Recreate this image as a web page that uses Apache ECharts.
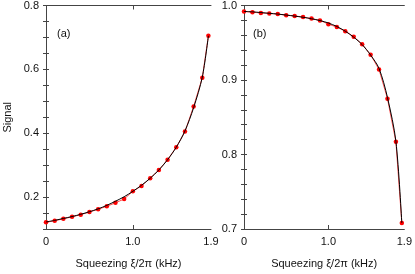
<!DOCTYPE html>
<html>
<head>
<meta charset="utf-8">
<script src="https://cdn.jsdelivr.net/npm/echarts@6/dist/echarts.min.js"></script>
<style>html,body{margin:0;padding:0;background:#fff}#c{width:415px;height:274px}</style>
</head>
<body>
<div id="c"></div>
<script>
// ---- data ----
const xPts = [0,0.1,0.2,0.3,0.4,0.5,0.6,0.7,0.8,0.9,1.0,1.1,1.2,1.3,1.4,1.5,1.6,1.7,1.8,1.87];
const sigA = [0.121,0.126,0.132,0.138,0.145,0.153,0.162,0.171,0.182,0.194,0.218,0.235,0.259,0.285,0.317,0.356,0.405,0.484,0.574,0.705];
const fitA = [0.122,0.127,0.133,0.139,0.146,0.154,0.163,0.174,0.187,0.201,0.218,0.237,0.259,0.285,0.317,0.356,0.407,0.480,0.576,0.705];
const sigB = [0.992,0.991,0.990,0.9894,0.9885,0.987,0.986,0.9845,0.9824,0.980,0.975,0.971,0.9656,0.958,0.948,0.934,0.914,0.875,0.817,0.708];
const fitB = [0.992,0.9915,0.9905,0.9895,0.9885,0.9872,0.9858,0.9842,0.9822,0.9798,0.9765,0.9718,0.9655,0.9575,0.9475,0.9335,0.9155,0.8765,0.8175,0.708];
const xTicks = [0, 1.0, 1.9];
const yTicksA = [0.2, 0.4, 0.6, 0.8];
const yMinorA = [0.1,0.15,0.2,0.25,0.3,0.35,0.4,0.45,0.5,0.55,0.6,0.65,0.7,0.75,0.8];
const yTicksB = [0.7, 0.8, 0.9, 1.0];
const yMinorB = [0.7,0.72,0.74,0.76,0.78,0.8,0.82,0.84,0.86,0.88,0.9,0.92,0.94,0.96,0.98,1.0];

const pairs = (xs, ys) => xs.map((x, i) => [x, ys[i]]);
const FONT = 'Liberation Sans';
const lineCol = '#444';
const txt = '#111';

function xAx(grid, pos, labels, name) {
  return {
    type: 'value', gridIndex: grid, position: pos, min: 0, max: 1.9,
    axisLine: {show: true, lineStyle: {color: lineCol, width: 1}},
    axisTick: {show: true, inside: true, length: 4, customValues: [1.0], lineStyle: {color: lineCol}},
    axisLabel: {show: labels, customValues: xTicks, color: txt, fontFamily: FONT, fontSize: 11, margin: 7,
      formatter: v => (v === 0 ? '0' : v.toFixed(1))},
    splitLine: {show: false},
    name: name || '', nameLocation: 'middle', nameGap: 29,
    nameTextStyle: {color: txt, fontFamily: FONT, fontSize: 11}
  };
}
function yAx(grid, pos, min, max, major, minor, labels, name) {
  return {
    type: 'value', gridIndex: grid, position: pos, min: min, max: max,
    axisLine: {show: true, lineStyle: {color: lineCol, width: 1}},
    axisTick: {show: true, inside: true, length: 3, customValues: minor, lineStyle: {color: lineCol}},
    axisLabel: {show: labels, customValues: major, color: txt, fontFamily: FONT, fontSize: 11, margin: 7,
      formatter: v => v.toFixed(1)},
    splitLine: {show: false},
    name: name || '', nameLocation: 'middle', nameGap: 33, nameRotate: 90,
    nameTextStyle: {color: txt, fontFamily: FONT, fontSize: 11}
  };
}

const chart = echarts.init(document.getElementById('c'), null, {renderer: 'canvas'});
chart.setOption({
  animation: false,
  backgroundColor: '#fff',
  grid: [
    {left: 46, top: 5, width: 165, height: 227},
    {left: 244, top: 5, width: 164, height: 227}
  ],
  xAxis: [
    xAx(0, 'bottom', true, 'Squeezing \u03be/2\u03c0 (kHz)'),
    xAx(0, 'top', false),
    xAx(1, 'bottom', true, 'Squeezing \u03be/2\u03c0 (kHz)'),
    xAx(1, 'top', false)
  ],
  yAxis: [
    yAx(0, 'left', 0.1, 0.8, yTicksA, yMinorA, true, 'Signal'),
    yAx(0, 'right', 0.1, 0.8, yTicksA, yMinorA, false),
    yAx(1, 'left', 0.7, 1.0, yTicksB, yMinorB, true),
    yAx(1, 'right', 0.7, 1.0, yTicksB, yMinorB, false)
  ],
  graphic: [
    {type: 'text', left: 57, top: 28, style: {text: '(a)', fill: txt, font: '11px "Liberation Sans"'}},
    {type: 'text', left: 253, top: 28, style: {text: '(b)', fill: txt, font: '11px "Liberation Sans"'}}
  ],
  series: [
    {type: 'line', xAxisIndex: 0, yAxisIndex: 0, data: pairs(xPts, sigA), symbol: 'circle', symbolSize: 4.5,
      itemStyle: {color: '#ff0000'}, lineStyle: {color: '#ff5050', width: 1}, z: 2},
    {type: 'line', xAxisIndex: 0, yAxisIndex: 0, data: pairs(xPts, fitA), smooth: 0.3, showSymbol: false,
      lineStyle: {color: '#000', width: 1}, z: 3},
    {type: 'line', xAxisIndex: 2, yAxisIndex: 2, data: pairs(xPts, sigB), symbol: 'circle', symbolSize: 4.5,
      itemStyle: {color: '#ff0000'}, lineStyle: {color: '#ff5050', width: 1}, z: 2},
    {type: 'line', xAxisIndex: 2, yAxisIndex: 2, data: pairs(xPts, fitB), smooth: 0.3, showSymbol: false,
      lineStyle: {color: '#000', width: 1}, z: 3}
  ]
});
</script>
</body>
</html>
